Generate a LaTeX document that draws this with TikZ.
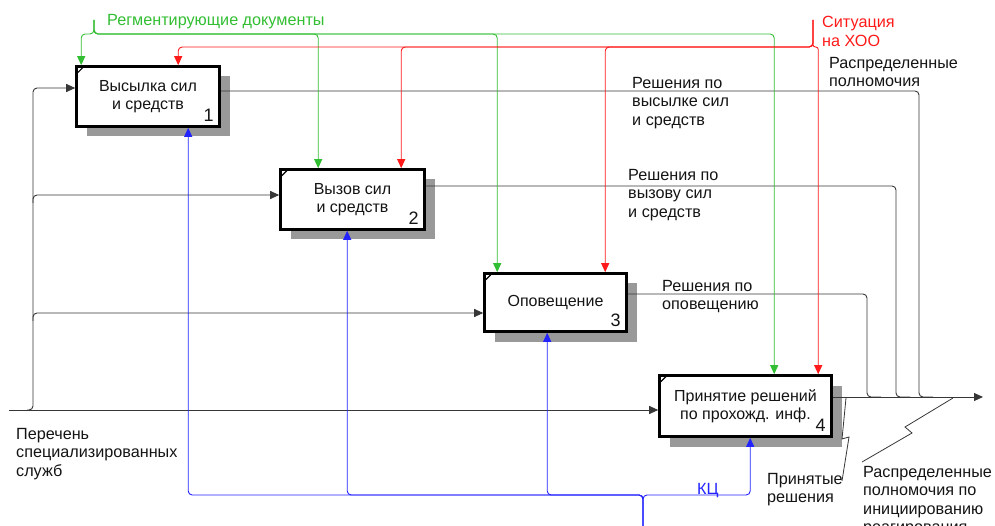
\documentclass[tikz,border=0pt]{standalone}
\usepackage{fontspec}
\setmainfont{Liberation Sans}
\usetikzlibrary{arrows.meta,calc,shadows}

\definecolor{ink}{RGB}{20,20,20}
\definecolor{wire}{RGB}{55,55,55}
\definecolor{ctlgreen}{RGB}{50,190,50}
\definecolor{ctlred}{RGB}{255,25,25}
\definecolor{mechblue}{RGB}{35,35,255}

\newcommand\bxfont{\fontsize{16}{18.5}\selectfont}
\newcommand\lbfont{\fontsize{16.2}{18.5}\selectfont}
\newcommand\nmfont{\fontsize{18}{20}\selectfont}

\tikzset{
  act/.style={draw=black, line width=2.6pt, fill=white, inner sep=0pt,
    align=center, font=\bxfont, text=ink,
    general shadow={fill=black!40, shadow xshift=10pt, shadow yshift=-10pt}},
  actnum/.style={anchor=base east, inner sep=0pt, font=\nmfont, text=ink},
  lbl/.style={anchor=north west, inner sep=0pt, align=left, font=\lbfont, text=ink},
  wire/.style={draw=wire, line width=0.9pt, rounded corners=4pt},
  tip/.style={-{Triangle[length=9pt,width=8pt]}},
  arr/.style={wire, tip},
  garr/.style={wire, draw=ctlgreen, tip},
  rarr/.style={wire, draw=ctlred, tip},
  barr/.style={wire, draw=mechblue, tip},
  bolt/.style={draw=wire, line width=0.8pt},
}

\begin{document}
\begin{tikzpicture}[x=1pt,y=-1pt]
\useasboundingbox (0,0) rectangle (995,526);

% activity boxes
\node[act, minimum width=143pt, minimum height=60pt] (b1) at (148,96.5)
  {Высылка сил\\и средств};
\node[act, minimum width=144pt, minimum height=60pt] (b2) at (352.5,199.5)
  {Вызов сил\\и средств};
\node[act, minimum width=142pt, minimum height=58pt] (b3) at (555.5,302.5)
  {Оповещение};
\node[act, minimum width=172pt, minimum height=61pt] (b4) at (745.5,406)
  {Принятие решений\\по прохожд. инф.};

\foreach \b/\n in {b1/1,b2/2,b3/3,b4/4}{
  \node[actnum] (n\n) at ($(\b.south east)+(-7,-6)$) {\n};
  \draw[line width=1.2pt] ($(\b.north west)+(1.5,8.5)$) -- ($(\b.north west)+(8.5,1.5)$);
}

% inputs
\coordinate (src) at (9,410);
\coordinate (spB) at (27,410);
\coordinate (spT) at (33,88);
\coordinate (sp2) at (33,203);
\coordinate (sp3) at (33,321);
\draw[arr] (src) -- (src -| b4.west);
\draw[arr] (spB) -| (spT) -- (spT -| b1.west);
\draw[arr] (sp2) |- ($(b2.west)+(0,-4.5)$);
\draw[arr] (sp3) |- ($(b3.west)+(0,10.5)$);

% outputs
\coordinate (sink) at (983,397);
\coordinate (j1) at (919,397);
\coordinate (j2) at (896,397);
\coordinate (j3) at (867,397);
\draw[arr] ($(b4.east)+(0,-9)$) -- (sink);
\draw[wire] ($(b1.east)+(0,-5.5)$) -| (j1) -- ++(14,0);
\draw[wire] ($(b2.east)+(0,-13.5)$) -| (j2) -- ++(14,0);
\draw[wire] ($(b3.east)+(0,-8.5)$) -| (j3) -- ++(14,0);

% controls: regulating documents
\coordinate (gTick) at (94,20);
\coordinate (gFork) at (94,34);
\draw[garr] (gTick) -- (gFork) -| ($(b1.north west)+(6,0)$);
\draw[garr] (gTick) -- (gFork) -| ($(b2.north west)+(39,0)$);
\draw[garr] (gTick) -- (gFork) -| ($(b3.north west)+(14,0)$);
\draw[garr] (gTick) -- (gFork) -| ($(b4.north west)+(116,0)$);

% controls: situation
\coordinate (rTick) at (813,20);
\coordinate (rFork) at (813,47);
\draw[rarr] (rTick) -- (rFork) -| ($(b1.north west)+(103,0)$);
\draw[rarr] (rTick) -- (rFork) -| ($(b2.north west)+(122,0)$);
\draw[rarr] (rTick) -- (rFork) -| ($(b3.north west)+(122,0)$);
\draw[rarr, rounded corners=2.4pt] (rTick) -- (rFork) -| ($(b4.north west)+(160,0)$);

% mechanisms
\coordinate (bTick) at (643,530);
\coordinate (bFork) at (643,495);
\draw[barr] (bTick) -- (bFork) -| ($(b1.south west)+(113,0)$);
\draw[barr] (bTick) -- (bFork) -| ($(b2.south west)+(68,0)$);
\draw[barr] (bTick) -- (bFork) -| ($(b3.south west)+(64,0)$);
\draw[barr] (bTick) -- (bFork) -| ($(b4.south west)+(92,0)$);

% squiggle leaders to the output labels
\coordinate (q1) at (846,398);
\coordinate (q2) at (953,398);
\draw[bolt] (q1) -- (842,439) -- (849,437) -- (842,481);
\draw[bolt] (q2) -- (905,427) -- (912,433) -- (862,462);

% labels
\node[lbl, text=ctlgreen] (tg) at (107,14) {Регментирующие документы};
\node[lbl, text=ctlred] (tr) at (822,16) {Ситуация\\на ХОО};
\node[lbl] (t0) at (829,57) {Распределенные\\полномочия};
\node[lbl] (t1) at (632,77) {Решения по\\высылке сил\\и средств};
\node[lbl] (t2) at (628,169) {Решения по\\вызову сил\\и средств};
\node[lbl] (t3) at (662,280) {Решения по\\оповещению};
\node[lbl] (t4) at (16,428) {Перечень\\специализированных\\служб};
\node[lbl] (t5) at (767,473) {Принятые\\решения};
\node[lbl] (t6) at (863,466) {Распределенные\\полномочия по\\инициированию\\реагирования};
\node[lbl, text=mechblue] (tb) at (697,483) {КЦ};
\end{tikzpicture}
\end{document}
